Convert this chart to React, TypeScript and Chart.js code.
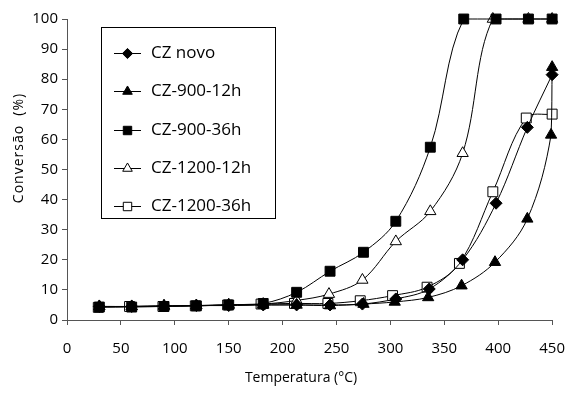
import React, { useEffect, useRef } from "react";
import { Chart, registerables } from "chart.js";
import { drawPoint } from "chart.js/helpers";

Chart.register(...registerables);

const seriesNames = ["CZ novo", "CZ-900-12h", "CZ-900-36h", "CZ-1200-12h", "CZ-1200-36h"];

const czNovoX = [30, 60, 90, 120, 150, 182, 213, 244, 274, 305, 336, 367, 398, 427, 450];
const czNovoY = [4.5, 4.5, 4.7, 4.8, 4.8, 5, 5, 5, 5.3, 7, 10.3, 20, 38.8, 64, 81.5];

const cz90012X = [30, 60, 90, 120, 150, 182, 213, 244, 275, 304, 335, 366, 397, 427, 449, 450];
const cz90012Y = [4.5, 4.5, 4.7, 4.8, 5, 5, 5, 4.8, 5.3, 6, 7.5, 11.4, 19.2, 33.6, 61.5, 84];

const cz90036X = [30, 60, 90, 120, 150, 182, 213, 244, 275, 305, 337, 368, 398, 428, 450];
const cz90036Y = [4.3, 4.3, 4.5, 4.7, 5, 5.5, 9.2, 16.2, 22.5, 32.8, 57.4, 100, 100, 100, 100];

const cz120012X = [30, 60, 90, 120, 150, 182, 213, 243, 274, 305, 337, 367, 395, 428, 450];
const cz120012Y = [4.5, 4.5, 4.6, 4.8, 5, 5.3, 6.5, 8.6, 13.3, 26.1, 36.1, 55.4, 100, 100, 100];

const cz120036X = [29, 58, 89, 119, 149, 180, 211, 242, 272, 302, 334, 364, 395, 426, 450];
const cz120036Y = [4.2, 4.5, 4.5, 4.7, 5, 5.3, 5.5, 5.5, 6.4, 8.1, 10.9, 18.8, 42.6, 67.1, 68.4];

const xTicksMin = 0;
const xTicksMax = 450;
const xStep = 50;
const yTicksMin = 0;
const yTicksMax = 100;
const yStep = 10;

const xTitle = "Temperatura (°C)";
const yTitle = "Conversão  (%)";

const zip = (xs: number[], ys: number[]) => xs.map((x, i) => ({ x, y: ys[i] }));

const markerStyles = [
  { style: "rectRot", fill: "#000", radius: 6 },
  { style: "triangle", fill: "#000", radius: 6.5 },
  { style: "rect", fill: "#000", radius: 7 },
  { style: "triangle", fill: "#fff", radius: 6.5 },
  { style: "rect", fill: "#fff", radius: 7 },
];

const FONT = "'Open Sans', 'Noto Sans', sans-serif";

const legendPlugin = {
  id: "boxLegend",
  afterDatasetsDraw(chart: any) {
    const ctx = chart.ctx;
    ctx.save();
    const left = 101.5, top = 27.5, w = 174, h = 191;
    ctx.fillStyle = "#fff";
    ctx.fillRect(left, top, w, h);
    ctx.strokeStyle = "#000";
    ctx.lineWidth = 1;
    ctx.strokeRect(left, top, w, h);
    const rows = [53, 91, 130, 168, 206];
    seriesNames.forEach((name, i) => {
      const y = rows[i];
      ctx.strokeStyle = "#000";
      ctx.lineWidth = 1;
      ctx.beginPath();
      ctx.moveTo(114, y + 0.5);
      ctx.lineTo(141, y + 0.5);
      ctx.stroke();
      const m = markerStyles[i];
      ctx.fillStyle = m.fill;
      ctx.strokeStyle = "#000";
      drawPoint(ctx, { pointStyle: m.style, rotation: 0, borderWidth: 1, radius: m.radius * 0.85 }, 127.5, y + 0.5);
      ctx.fillStyle = "#000";
      ctx.font = `17px ${FONT}`;
      ctx.textAlign = "left";
      ctx.textBaseline = "middle";
      ctx.fillText(name, 151, y);
    });
    ctx.restore();
  },
  afterDraw(chart: any) {
    const ctx = chart.ctx;
    ctx.save();
    ctx.fillStyle = "#000";
    ctx.font = `14px ${FONT}`;
    ctx.textAlign = "center";
    ctx.textBaseline = "middle";
    ctx.fillText(xTitle, 301, 378);
    ctx.translate(19, 148);
    ctx.rotate(-Math.PI / 2);
    (ctx as any).letterSpacing = "1px";
    ctx.fillText(yTitle, 0, 0);
    ctx.restore();
  },
};

export default function App() {
  const ref = useRef<HTMLCanvasElement>(null);
  useEffect(() => {
    const all = [
      zip(czNovoX, czNovoY),
      zip(cz90012X, cz90012Y),
      zip(cz90036X, cz90036Y),
      zip(cz120012X, cz120012Y),
      zip(cz120036X, cz120036Y),
    ];
    const chart = new Chart(ref.current as HTMLCanvasElement, {
      type: "line",
      data: {
        datasets: all.map((d, i) => ({
          label: seriesNames[i],
          data: d,
          borderColor: "#000",
          borderWidth: 1,
          tension: 0.35,
          pointStyle: markerStyles[i].style as any,
          pointRadius: markerStyles[i].radius,
          pointBackgroundColor: markerStyles[i].fill,
          pointBorderColor: "#000",
          pointBorderWidth: 1,
          clip: false as any,
          fill: false,
        })),
      },
      options: {
        responsive: false,
        animation: false,
        layout: { padding: { top: 19, right: 20, left: 0, bottom: 0 } },
        plugins: { legend: { display: false }, tooltip: { enabled: false } },
        scales: {
          x: {
            type: "linear",
            min: xTicksMin,
            max: xTicksMax,
            ticks: { stepSize: xStep, color: "#000", font: { family: FONT, size: 15 }, padding: 15, maxRotation: 0 },
            grid: { drawOnChartArea: false, drawTicks: true, tickLength: 5, color: "#555" },
            border: { display: true, color: "#555", width: 1 },
            afterFit: (s: any) => { s.height = 81; },
          },
          y: {
            type: "linear",
            min: yTicksMin,
            max: yTicksMax,
            ticks: { stepSize: yStep, color: "#000", font: { family: FONT, size: 15 }, padding: 4 },
            grid: { drawOnChartArea: false, drawTicks: true, tickLength: 5, color: "#555" },
            border: { display: true, color: "#555", width: 1 },
            afterFit: (s: any) => { s.width = 67; },
          },
        },
      },
      plugins: [legendPlugin],
    });
    return () => chart.destroy();
  }, []);
  return (
    <div style={{ position: "fixed", left: 0, top: 0, width: 580, height: 401, background: "#fff" }}>
      <canvas ref={ref} width={580} height={401} style={{ width: 580, height: 401 }} />
    </div>
  );
}
